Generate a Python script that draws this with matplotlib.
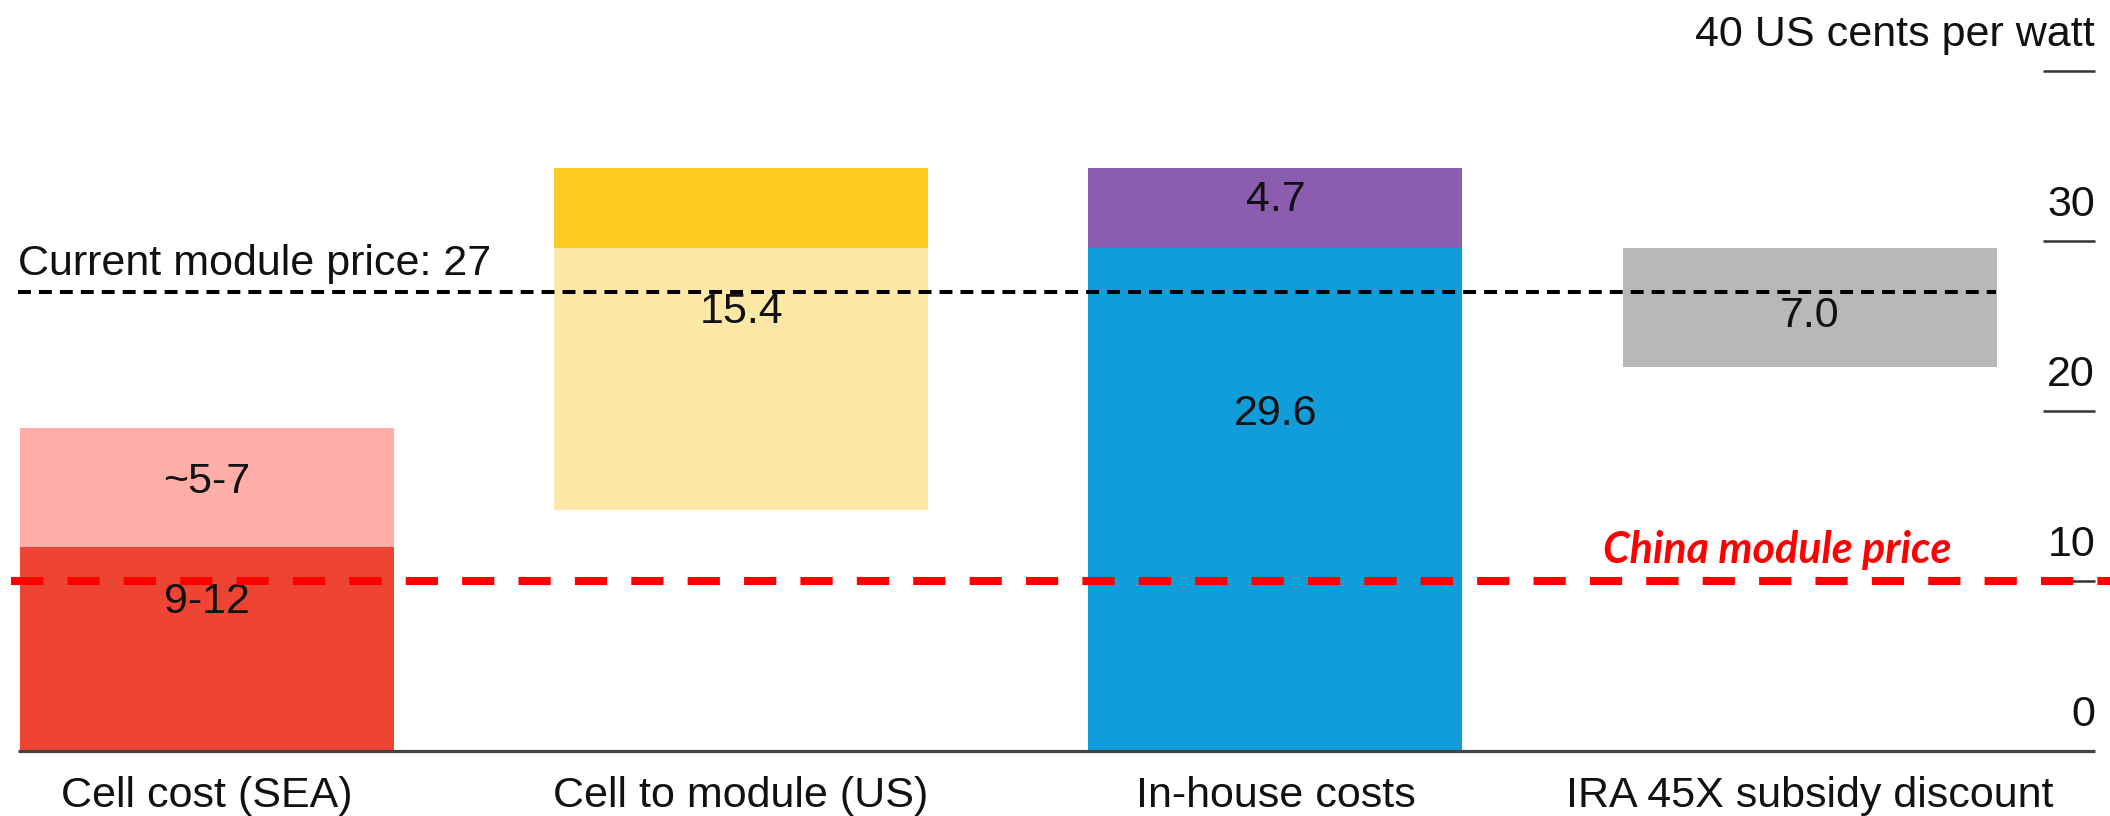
import matplotlib
matplotlib.use("Agg")
import matplotlib.pyplot as plt

# data
categories = ["Cell cost (SEA)", "Cell to module (US)", "In-house costs", "IRA 45X subsidy discount"]
low_base = [0, 14.2, 0, 22.6]
low_height = [12.0, 15.4, 29.6, 7.0]
low_labels = ["9-12", "15.4", "29.6", "7.0"]
high_base = [12.0, 29.6, 29.6]
high_height = [7.0, 4.7, 4.7]
high_labels = ["~5-7", "", "4.7"]
current_price = 27
china_price = 10
yticks = [0, 10, 20, 30, 40]
ytick_labels = ["0", "10", "20", "30", "40 US cents per watt"]

low_colors = ["#EE4433", "#FDE8A7", "#109DD9", "#B8B8B8"]
high_colors = ["#FFAEA7", "#FFCA1F", "#8B5DB1"]
# label heights inside the bars
low_label_y = [8.75, 25.8, 19.8, 25.6]
high_label_y = [15.8, 0, 32.4]

plt.rcParams["font.family"] = ["Liberation Sans", "DejaVu Sans"]
fs = 31

fig = plt.figure(figsize=(21.1, 8.16), dpi=100)
ax = fig.add_axes([0, 65 / 816, 1, 751 / 816])
ax.set_xlim(-0.387, 3.562)
ax.set_ylim(0, 751 / 17)
for s in ax.spines.values():
    s.set_visible(False)
ax.set_yticks([])

x = list(range(len(categories)))
w = 0.70
ax.bar(x, low_height, bottom=low_base, width=w, color=low_colors, linewidth=0)
ax.bar(x[:3], high_height, bottom=high_base, width=w, color=high_colors, linewidth=0)

for i, t in enumerate(low_labels):
    ax.text(x[i], low_label_y[i], t, ha="center", va="center", fontsize=fs, color="#111111")
for i, t in enumerate(high_labels):
    if t:
        ax.text(x[i], high_label_y[i], t, ha="center", va="center", fontsize=fs, color="#111111")

ax.set_xticks(x)
ax.set_xticklabels(categories, fontsize=fs, color="#111111")
ax.tick_params(axis="x", length=0, pad=18)

# baseline and right-side ticks
ax.hlines(0, -0.354, 3.534, color="#444444", lw=2.3, clip_on=False, zorder=3)
ax.hlines(yticks[1:], 3.436, 3.534, color="#333333", lw=1.8)
for v, t in zip(yticks, ytick_labels):
    ax.text(3.534, v + 1.45, t, ha="right", va="baseline", fontsize=fs, color="#111111")

# reference lines
ax.hlines(current_price, -0.354, 3.348, color="black", lw=2.9, linestyles=(0, (3.2, 2)), zorder=4)
ax.text(-0.354, 28.0, "Current module price: %d" % current_price, ha="left", va="baseline",
        fontsize=fs, color="#111111")
ax.hlines(china_price, -0.367, 3.562, color="#FF0000", lw=5.8, linestyles=(0, (4, 3)), zorder=4)
ax.text(2.94, 11.06, "China module price", ha="center", va="baseline", fontsize=31,
        color="#FF0000", family=["Lato", "DejaVu Sans"], weight="bold", style="italic")

fig.savefig("out.png", dpi=100)
